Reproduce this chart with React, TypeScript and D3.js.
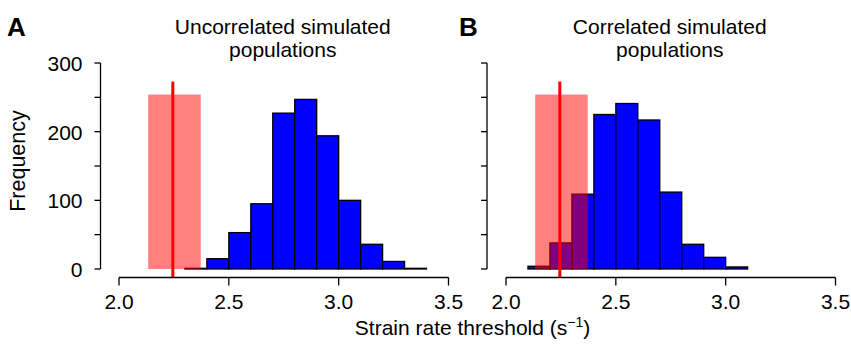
import { useRef, useEffect } from "react";
import * as d3 from "d3";

// histogram bins (lower edge) and counts
const uncorrBins = [2.3, 2.4, 2.5, 2.6, 2.7, 2.8, 2.9, 3.0, 3.1, 3.2, 3.3];
const uncorrCounts = [1, 15, 53, 95, 227, 247, 194, 100, 36, 11, 1];
const corrBins = [2.1, 2.2, 2.3, 2.4, 2.5, 2.6, 2.7, 2.8, 2.9, 3.0];
const corrCounts = [4, 38, 109, 225, 241, 217, 112, 36, 17, 3];
const binWidth = 0.1;

// measured threshold: mean line and uncertainty band
const measuredMean = 2.245;
const measuredBand = [2.133, 2.372];
const bandHeight = 254;
const lineRange = [-13, 273];

const xTicks = [2.0, 2.5, 3.0, 3.5];
const yTicks = [0, 50, 100, 150, 200, 250, 300];
const yLabels = [0, 100, 200, 300];

const panels = [
  { letter: "A", title: ["Uncorrelated simulated", "populations"], bins: uncorrBins, counts: uncorrCounts, x0: 119, yAxisX: 100.5, showLabels: true },
  { letter: "B", title: ["Correlated simulated", "populations"], bins: corrBins, counts: corrCounts, x0: 506, yAxisX: 487, showLabels: false },
];

const FONT = "'Liberation Sans', Arial, Helvetica, sans-serif";

export default function App() {
  const svgRef = useRef(null);

  useEffect(() => {
    const width = 851, height = 347;
    const svg = d3.select(svgRef.current)
      .attr("width", width)
      .attr("height", height)
      .style("font-family", FONT);

    const y = d3.scaleLinear().domain([0, 300]).range([269, 63]);
    const xAxisY = 277.5;

    panels.forEach((p) => {
      const x = d3.scaleLinear().domain([2.0, 3.5]).range([p.x0, p.x0 + 329.5]);
      const g = svg.append("g");

      // panel letter
      g.append("text")
        .attr("x", p.letter === "A" ? 7 : 459)
        .attr("y", 36)
        .attr("font-size", 26)
        .attr("font-weight", "bold")
        .text(p.letter);

      // title
      const cx = (x(2.0) + x(3.5)) / 2 - 1;
      p.title.forEach((t, i) => {
        g.append("text")
          .attr("x", cx)
          .attr("y", 34 + i * 23)
          .attr("text-anchor", "middle")
          .attr("font-size", 21)
          .text(t);
      });

      // bars
      g.selectAll("rect.bar")
        .data(p.bins.map((b, i) => ({ b, c: p.counts[i] })))
        .join("rect")
        .attr("class", "bar")
        .attr("x", (d) => x(d.b))
        .attr("y", (d) => y(d.c))
        .attr("width", (d) => x(d.b + binWidth) - x(d.b))
        .attr("height", (d) => y(0) - y(d.c))
        .attr("fill", "#0000ff")
        .attr("stroke", "#000")
        .attr("stroke-width", 1.3);

      // measured band
      g.append("rect")
        .attr("x", x(measuredBand[0]))
        .attr("y", y(bandHeight))
        .attr("width", x(measuredBand[1]) - x(measuredBand[0]))
        .attr("height", y(0) - y(bandHeight))
        .attr("fill", "#ff0000")
        .attr("fill-opacity", 0.5);

      // measured line
      g.append("line")
        .attr("x1", x(measuredMean))
        .attr("x2", x(measuredMean))
        .attr("y1", y(lineRange[0]))
        .attr("y2", y(lineRange[1]))
        .attr("stroke", "#ff0000")
        .attr("stroke-width", 3);

      // x axis
      const xa = g.append("g").attr("transform", `translate(0,${xAxisY})`);
      xa.append("line")
        .attr("x1", x(2.0)).attr("x2", x(3.5))
        .attr("stroke", "#000").attr("stroke-width", 1.3);
      xTicks.forEach((t) => {
        xa.append("line")
          .attr("x1", x(t)).attr("x2", x(t))
          .attr("y1", 0).attr("y2", 8)
          .attr("stroke", "#000").attr("stroke-width", 1.3);
        xa.append("text")
          .attr("x", x(t))
          .attr("y", 31)
          .attr("text-anchor", "middle")
          .attr("font-size", 21)
          .text(d3.format(".1f")(t));
      });

      // y axis
      const ya = g.append("g").attr("transform", `translate(${p.yAxisX},0)`);
      ya.append("line")
        .attr("y1", y(0)).attr("y2", y(300))
        .attr("stroke", "#000").attr("stroke-width", 1.3);
      yTicks.forEach((t) => {
        ya.append("line")
          .attr("x1", 0).attr("x2", -6)
          .attr("y1", y(t)).attr("y2", y(t))
          .attr("stroke", "#000").attr("stroke-width", 1.3);
      });
      if (p.showLabels) {
        yLabels.forEach((t) => {
          ya.append("text")
            .attr("x", -18)
            .attr("y", y(t) + 8)
            .attr("text-anchor", "end")
            .attr("font-size", 21)
            .text(t);
        });
      }
    });

    // y-axis label
    svg.append("text")
      .attr("transform", "rotate(-90)")
      .attr("x", -161)
      .attr("y", 25)
      .attr("text-anchor", "middle")
      .attr("font-size", 21.5)
      .text("Frequency");

    // x-axis label
    const xl = svg.append("text")
      .attr("x", 472.5)
      .attr("y", 335)
      .attr("text-anchor", "middle")
      .attr("font-size", 21);
    xl.append("tspan").text("Strain rate threshold (s");
    xl.append("tspan").attr("font-size", 14).attr("dy", -8).text("\u22121");
    xl.append("tspan").attr("dy", 8).text(")");

    return () => {
      d3.select(svgRef.current).selectAll("*").remove();
    };
  }, []);

  return (
    <div>
      <svg ref={svgRef} style={{ position: "absolute", left: 0, top: 0 }}></svg>
    </div>
  );
}
